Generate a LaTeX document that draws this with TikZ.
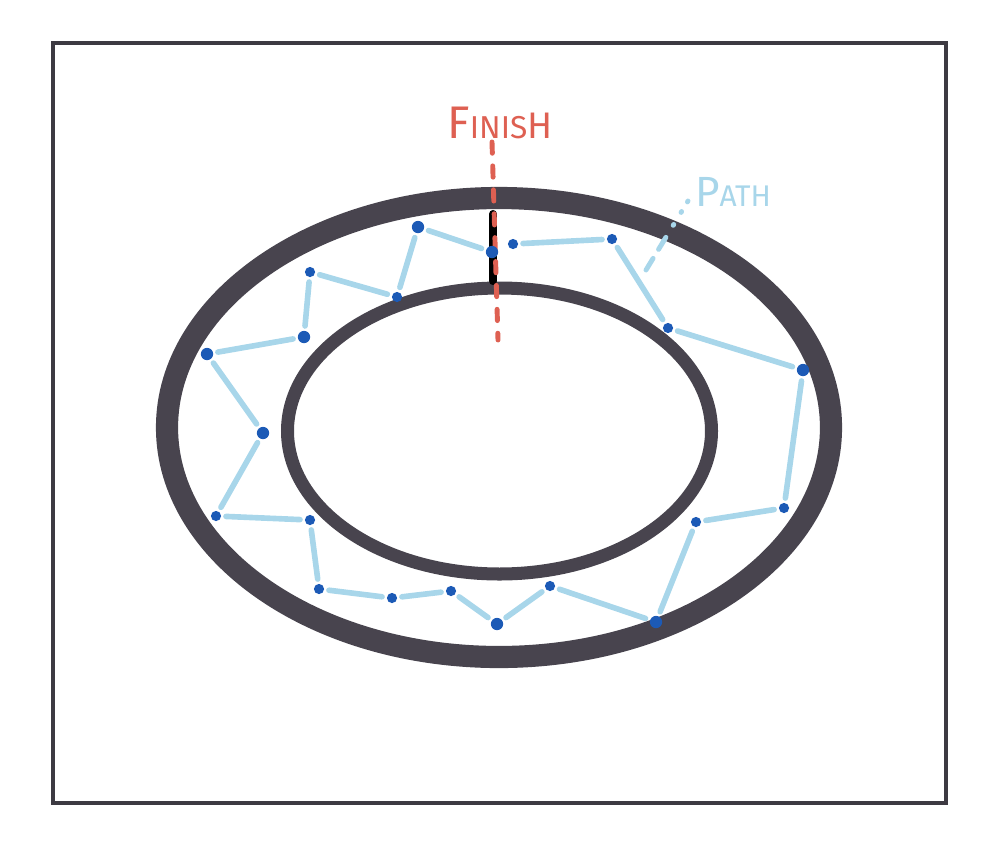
\documentclass[tikz,border=0pt]{standalone}
\usepackage{fontspec}
\newfontfamily\handfont{Fira Sans}
\definecolor{colRING}{RGB}{72,68,78}
\definecolor{colFIN}{RGB}{222,96,82}
\definecolor{colPATH}{RGB}{168,214,234}
\definecolor{colDOT}{RGB}{28,90,182}

\begin{document}
\begin{tikzpicture}[x=0.01cm, y=-0.01cm,
    dot/.style={circle, fill=colDOT, inner sep=0pt, minimum size=2.9pt},
    bigdot/.style={dot, minimum size=3.5pt},
    pathline/.style={colPATH, line width=1.6pt, line cap=round, shorten <=1.2pt, shorten >=1.2pt}]
  \useasboundingbox (0,0) rectangle (1000,851);
  % Frame
  \draw[colRING!85!black, line width=1.2pt] (53,43) rectangle (946,803);
  % Track: outer and inner rings
  \draw[colRING, line width=6.3pt] (499,427.5) ellipse [x radius=332, y radius=229.5];
  \draw[colRING, line width=3.7pt] (499.5,431) ellipse [x radius=212, y radius=143];
  % Finish bar
  \draw[black, line width=2.3pt, line cap=round] (493,214) -- (493,281);
  % Finish line (dashed) and label
  \node[colFIN, font=\handfont] (finishlbl) at (500,123)
    {{\fontsize{13}{13}\selectfont F}{\fontsize{9}{9}\selectfont INIS}{\fontsize{10.5}{10.5}\selectfont H}};
  \coordinate (fintop) at (492,142);
  \coordinate (finbot) at (498,340);
  \draw[colFIN, line width=1.4pt, line cap=round, dash pattern=on 3.2pt off 3.6pt] (fintop) -- (finbot);
  % Path label and leader
  \node[colPATH, font=\handfont] (pathlbl) at (733,192)
    {{\fontsize{12}{12}\selectfont P}{\fontsize{8.5}{8.5}\selectfont ATH}};
  \coordinate (leaderend) at (646,270);
  \draw[colPATH, line width=1.4pt, line cap=round, dash pattern=on 0.3pt off 3.2pt on 0.3pt off 4pt on 0.3pt off 4pt on 4pt off 3pt on 5pt off 3pt]
    (688,201) -- (leaderend);
  % Path points
  \node[dot] (p1) at (513,244) {};
  \node[dot] (p2) at (612,239) {};
  \node[dot] (p3) at (668,328) {};
  \node[bigdot] (p4) at (803,370) {};
  \node[dot] (p5) at (784,508) {};
  \node[dot] (p6) at (696,522) {};
  \node[bigdot] (p7) at (656,622) {};
  \node[dot] (p8) at (550,586) {};
  \node[bigdot] (p9) at (497,624) {};
  \node[dot] (p10) at (451,591) {};
  \node[dot] (p11) at (392,598) {};
  \node[dot] (p12) at (319,589) {};
  \node[dot] (p13) at (310,520) {};
  \node[dot] (p14) at (216,516) {};
  \node[bigdot] (p15) at (263,433) {};
  \node[bigdot] (p16) at (207,354) {};
  \node[bigdot] (p17) at (304,337) {};
  \node[dot] (p18) at (310,272) {};
  \node[dot] (p19) at (397,297) {};
  \node[bigdot] (p20) at (418,227) {};
  \node[bigdot] (p21) at (492,252) {};
  % Path segments
  \draw[pathline] (p1) -- (p2);
  \draw[pathline] (p2) -- (p3);
  \draw[pathline] (p3) -- (p4);
  \draw[pathline] (p4) -- (p5);
  \draw[pathline] (p5) -- (p6);
  \draw[pathline] (p6) -- (p7);
  \draw[pathline] (p7) -- (p8);
  \draw[pathline] (p8) -- (p9);
  \draw[pathline] (p9) -- (p10);
  \draw[pathline] (p10) -- (p11);
  \draw[pathline] (p11) -- (p12);
  \draw[pathline] (p12) -- (p13);
  \draw[pathline] (p13) -- (p14);
  \draw[pathline] (p14) -- (p15);
  \draw[pathline] (p15) -- (p16);
  \draw[pathline] (p16) -- (p17);
  \draw[pathline] (p17) -- (p18);
  \draw[pathline] (p18) -- (p19);
  \draw[pathline] (p19) -- (p20);
  \draw[pathline] (p20) -- (p21);
\end{tikzpicture}
\end{document}
